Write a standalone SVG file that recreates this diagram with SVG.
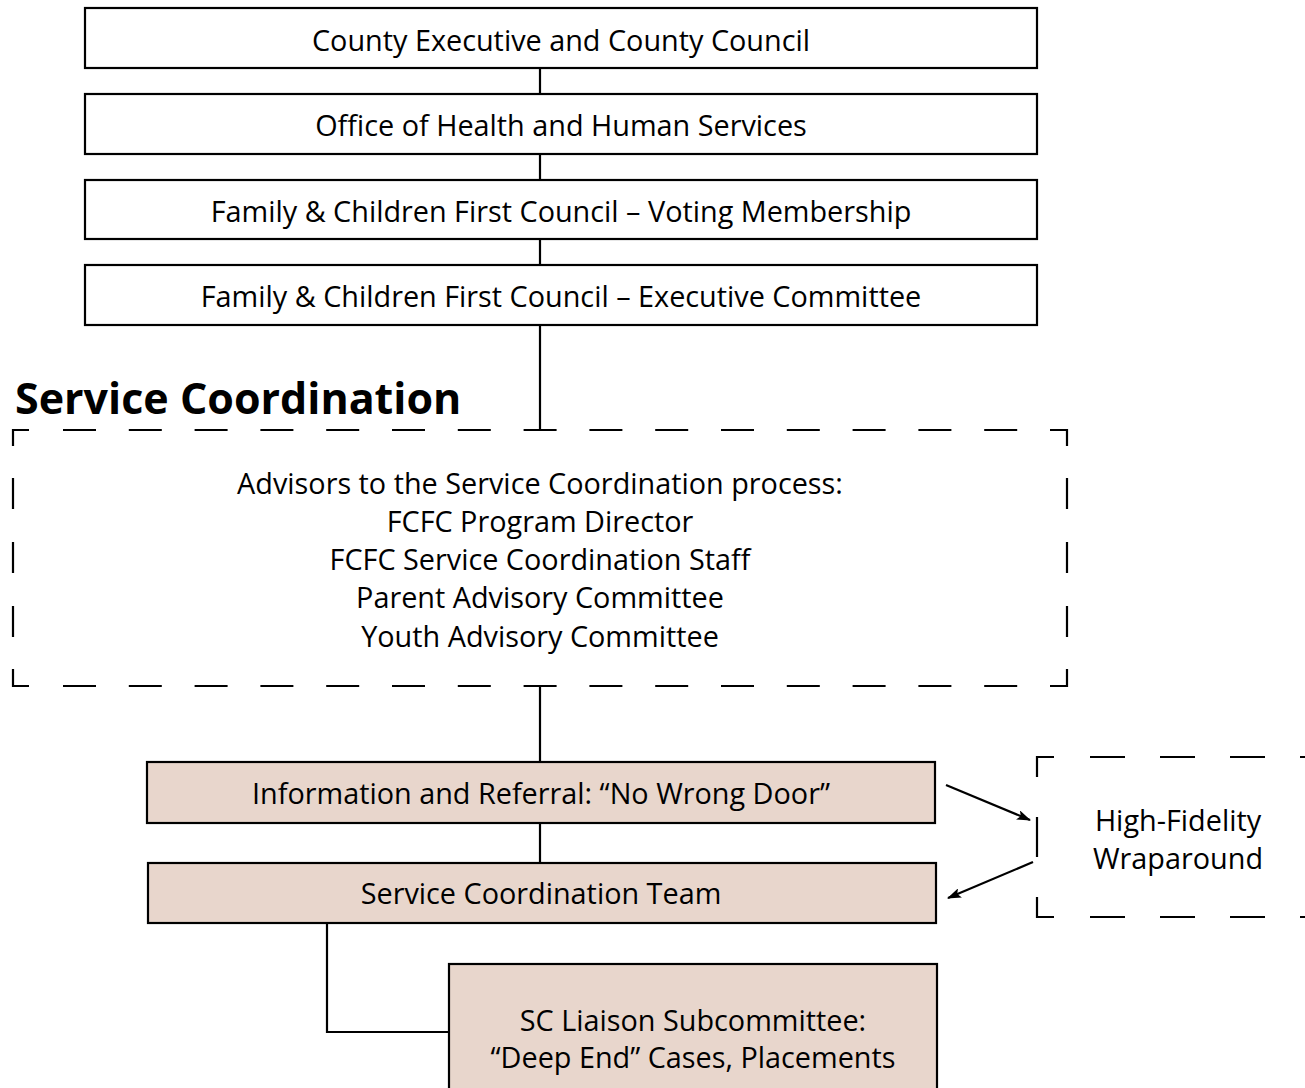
<svg xmlns="http://www.w3.org/2000/svg" width="1305" height="1088" viewBox="0 0 1305 1088">
<defs>
<marker id="arr" viewBox="0 0 14 10" refX="13" refY="5" markerWidth="14" markerHeight="10" markerUnits="userSpaceOnUse" orient="auto">
<path d="M0,0 L14,5 L0,10 L3,5 Z" fill="#000"/>
</marker>
<style>
.box{fill:#fff;stroke:#000;stroke-width:2.2}
.sbox{fill:#e8d6cc;stroke:#000;stroke-width:2.2}
.t{font-family:"Open Sans","Liberation Sans",Arial,sans-serif;font-size:28.8px;fill:#000;text-anchor:middle}
.h{font-family:"Open Sans","Liberation Sans",Arial,sans-serif;font-size:43px;font-weight:bold;fill:#000}
.ln{fill:none;stroke:#000;stroke-width:2.2}
.d1{fill:none;stroke:#000;stroke-width:2.2;stroke-dasharray:33 32.8}
.dv{fill:none;stroke:#000;stroke-width:2.2;stroke-dasharray:31 33}
.d2{fill:none;stroke:#000;stroke-width:2.2;stroke-dasharray:35 35}
</style>
</defs>
<rect width="1305" height="1088" fill="#fff"/>
<g id="connectors">
<path class="ln" d="M540 68V94M540 154V180M540 239V265M540 325V430M540 686V762M540 823V863M327 923V1032H449"/>
<line class="ln" x1="946" y1="785" x2="1030" y2="820" marker-end="url(#arr)"/>
<line class="ln" x1="1033" y1="862" x2="948" y2="898" marker-end="url(#arr)"/>
</g>
<g id="n1"><rect class="box" x="85" y="8" width="952" height="60"/><text class="t" x="561" y="51">County Executive and County Council</text></g>
<g id="n2"><rect class="box" x="85" y="94" width="952" height="60"/><text class="t" x="561" y="136">Office of Health and Human Services</text></g>
<g id="n3"><rect class="box" x="85" y="180" width="952" height="59"/><text class="t" x="561" y="222">Family &amp; Children First Council – Voting Membership</text></g>
<g id="n4"><rect class="box" x="85" y="265" width="952" height="60"/><text class="t" x="561" y="307">Family &amp; Children First Council – Executive Committee</text></g>
<g id="title"><text class="h" x="15" y="414">Service Coordination</text></g>
<g id="advisors">
<path class="ln" d="M13 446V430H29M1050 430H1067V446M1067 669V686H1050M29 686H13V669"/>
<line class="d1" x1="63" y1="430" x2="1018" y2="430"/>
<line class="d1" x1="63" y1="686" x2="1018" y2="686"/>
<line class="dv" x1="13" y1="478" x2="13" y2="638"/>
<line class="dv" x1="1067" y1="478" x2="1067" y2="638"/>
<text class="t" x="540" y="494">Advisors to the Service Coordination process:</text>
<text class="t" x="540" y="532">FCFC Program Director</text>
<text class="t" x="540" y="570">FCFC Service Coordination Staff</text>
<text class="t" x="540" y="608">Parent Advisory Committee</text>
<text class="t" x="540" y="647">Youth Advisory Committee</text>
</g>
<g id="n5"><rect class="sbox" x="147" y="762" width="788" height="61"/><text class="t" x="541" y="804">Information and Referral: “No Wrong Door”</text></g>
<g id="n6"><rect class="sbox" x="148" y="863" width="788" height="60"/><text class="t" x="541" y="904">Service Coordination Team</text></g>
<g id="n7"><rect class="sbox" x="449" y="964" width="488" height="135"/><text class="t" x="693" y="1031">SC Liaison Subcommittee:</text><text class="t" x="693" y="1068">“Deep End” Cases, Placements</text></g>
<g id="n8">
<path class="ln" d="M1037 777V757H1054M1037 897V917H1054"/>
<line class="d2" x1="1090" y1="757" x2="1320" y2="757"/>
<line class="d2" x1="1090" y1="917" x2="1320" y2="917"/>
<line class="ln" x1="1037" y1="817" x2="1037" y2="857"/>
<text class="t" x="1178" y="831">High-Fidelity</text>
<text class="t" x="1178" y="869">Wraparound</text>
</g>
</svg>
